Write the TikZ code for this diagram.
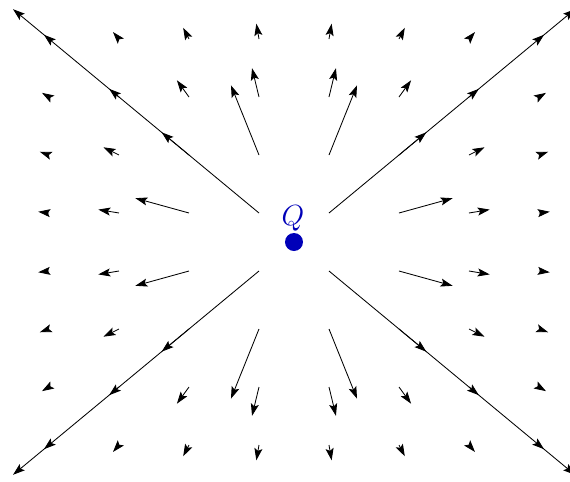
\documentclass[tikz,border=0pt]{standalone}
\usepackage{tikz}
\usetikzlibrary{arrows.meta}
\definecolor{qblue}{rgb}{0,0,0.72}

\begin{document}
\begin{tikzpicture}[x=0.25cm,y=0.25cm,
  field/.style={-{Stealth[length=3mm,width=2mm,inset=0.6mm]},line width=0.6pt},
  charge/.style={circle,fill=qblue,inner sep=0pt,minimum size=4.5mm}]
  \useasboundingbox (-29.4,-23.9) rectangle (27.6,24.2);
  \foreach \i in {-3.5,-2.5,...,3.5}{
    \foreach \j in {-3.5,-2.5,...,3.5}{
      \pgfmathsetmacro\px{7*\i}
      \pgfmathsetmacro\py{5.8*\j}
      \pgfmathsetmacro\rr{\px*\px+\py*\py}
      \pgfmathsetmacro\s{(660/\rr)/sqrt(\rr)}
      \pgfmathsetmacro\dx{\s*\px}
      \pgfmathsetmacro\dy{\s*\py}
      \draw[field] (\px,\py) -- ++(\dx,\dy);
    }
  }
  \node[charge] (Q) at (0,0) {};
  \node[text=qblue,font=\fontsize{20}{22}\selectfont,anchor=base] (Qlabel) at (-0.1,1.7) {$Q$};
\end{tikzpicture}
\end{document}
